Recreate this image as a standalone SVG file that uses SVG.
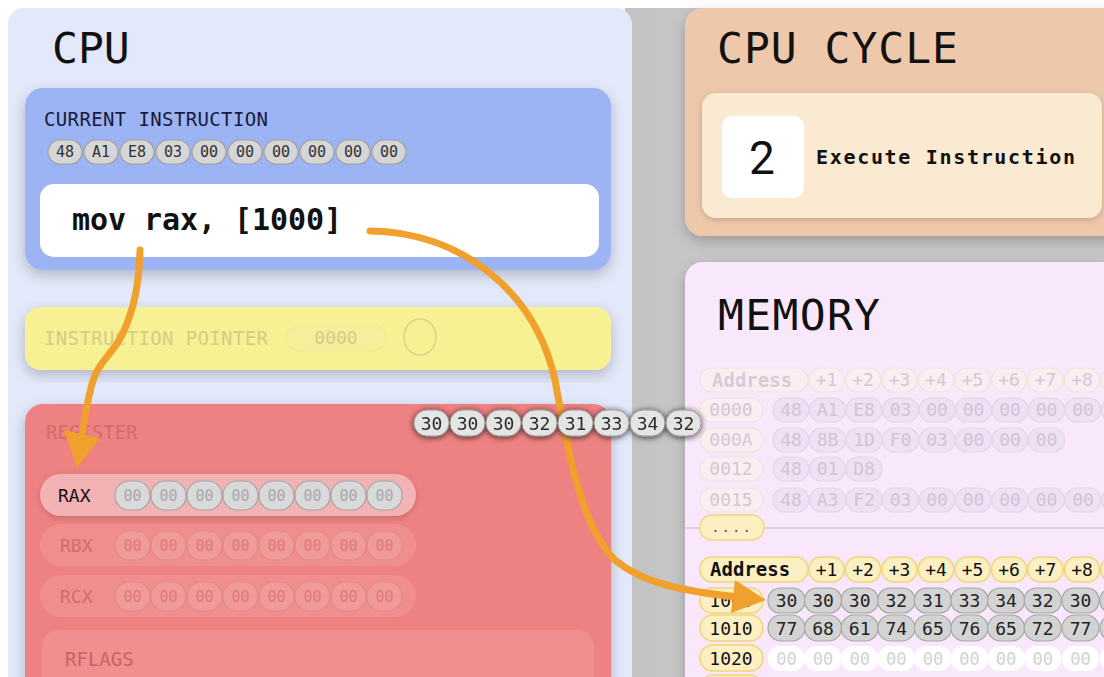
<svg xmlns="http://www.w3.org/2000/svg" width="1104" height="677" viewBox="0 0 1104 677">
<defs>
<filter id="sh" x="-10%" y="-10%" width="120%" height="130%"><feDropShadow dx="0" dy="5" stdDeviation="7" flood-color="#000" flood-opacity="0.22"/></filter>
<filter id="shs" x="-20%" y="-30%" width="140%" height="170%"><feDropShadow dx="0" dy="2" stdDeviation="3" flood-color="#000" flood-opacity="0.18"/></filter>
<filter id="shf" x="-30%" y="-50%" width="160%" height="200%"><feDropShadow dx="0" dy="1" stdDeviation="3" flood-color="#000" flood-opacity="0.75"/></filter>
<linearGradient id="gband" x1="0" x2="1" y1="0" y2="0"><stop offset="0" stop-color="#c2c2c2"/><stop offset="0.5" stop-color="#d4d4d4"/><stop offset="1" stop-color="#c4c4c4"/></linearGradient>
</defs>
<style>
.mono{font-family:"DejaVu Sans Mono","Liberation Mono",monospace}
.title{font-family:"DejaVu Sans Mono","Liberation Mono",monospace;font-size:43px;fill:#111}
.lbl{font-family:"DejaVu Sans Mono","Liberation Mono",monospace;font-size:19px;fill:#1a1a3a}
.lbly{font-family:"DejaVu Sans Mono","Liberation Mono",monospace;font-size:19px;fill:#d3cd88}
.lblr{font-family:"DejaVu Sans Mono","Liberation Mono",monospace;font-size:19px;fill:#d46a6a}
.bp{fill:#d6d6d6;stroke:#a0a0a0;stroke-width:1.2}
.bt{font-family:"DejaVu Sans Mono","Liberation Mono",monospace;font-size:15px;fill:#333;text-anchor:middle}
.rp{fill:#d9d9d9;stroke:#a4a4a4;stroke-width:1.2}
.rt{font-family:"DejaVu Sans Mono","Liberation Mono",monospace;font-size:15px;fill:#a9a9a9;text-anchor:middle}
.fp{fill:#f09a9a;stroke:#e48888;stroke-width:1.2}
.ft{font-family:"DejaVu Sans Mono","Liberation Mono",monospace;font-size:15px;fill:#e07a7a;text-anchor:middle}
.fl{fill:#e4e4e4;stroke:#9a9a9a;stroke-width:1}
.flt{font-family:"DejaVu Sans Mono","Liberation Mono",monospace;font-size:18px;fill:#2a2a2a;text-anchor:middle}
.ah{fill:#fcefc2;stroke:#efd57a;stroke-width:1.5}
.aht{font-family:"DejaVu Sans Mono","Liberation Mono",monospace;font-size:18px;fill:#111;text-anchor:middle}
.vp{fill:#d3d3d3;stroke:#a6a6a6;stroke-width:1.2}
.vt{font-family:"DejaVu Sans Mono","Liberation Mono",monospace;font-size:18px;fill:#222;text-anchor:middle}
.wp{fill:#ffffff}
.wt{font-family:"DejaVu Sans Mono","Liberation Mono",monospace;font-size:17px;fill:#d2d2d2;text-anchor:middle}
.dh{fill:#fbeef2;stroke:#f3e2dc;stroke-width:1.2}
.dht{font-family:"DejaVu Sans Mono","Liberation Mono",monospace;font-size:18px;fill:#d6c6d6;text-anchor:middle}
.dv{fill:#efe0f3;stroke:#e4d4e9;stroke-width:1.2}
.dvt{font-family:"DejaVu Sans Mono","Liberation Mono",monospace;font-size:18px;fill:#d2c3d7;text-anchor:middle}
.arr{fill:none;stroke:#f0a02c;stroke-width:7;stroke-linecap:round}
.arrh{fill:#f0a02c}
</style>
<rect x="0" y="0" width="1104" height="677" fill="#ffffff"/>
<rect x="625" y="8" width="479" height="669" fill="url(#gband)"/>
<rect x="690" y="8" width="414" height="669" fill="#c6c6c6"/>

<g id="cpu">
<rect x="8" y="8" width="624" height="690" rx="16" fill="#e3e8fa"/>
<text x="52" y="63" class="title">CPU</text>
</g>

<g id="current-instruction">
<rect x="25" y="88" width="586" height="182" rx="18" fill="#9cb4f4" filter="url(#sh)"/>
<text x="44" y="126" class="lbl" textLength="224">CURRENT INSTRUCTION</text>
<g>
<rect class="bp" x="48" y="140" width="34" height="24" rx="12"/><text class="bt" x="65" y="157">48</text>
<rect class="bp" x="84" y="140" width="34" height="24" rx="12"/><text class="bt" x="101" y="157">A1</text>
<rect class="bp" x="120" y="140" width="34" height="24" rx="12"/><text class="bt" x="137" y="157">E8</text>
<rect class="bp" x="156" y="140" width="34" height="24" rx="12"/><text class="bt" x="173" y="157">03</text>
<rect class="bp" x="192" y="140" width="34" height="24" rx="12"/><text class="bt" x="209" y="157">00</text>
<rect class="bp" x="228" y="140" width="34" height="24" rx="12"/><text class="bt" x="245" y="157">00</text>
<rect class="bp" x="264" y="140" width="34" height="24" rx="12"/><text class="bt" x="281" y="157">00</text>
<rect class="bp" x="300" y="140" width="34" height="24" rx="12"/><text class="bt" x="317" y="157">00</text>
<rect class="bp" x="336" y="140" width="34" height="24" rx="12"/><text class="bt" x="353" y="157">00</text>
<rect class="bp" x="372" y="140" width="34" height="24" rx="12"/><text class="bt" x="389" y="157">00</text>
</g>
<rect x="40" y="184" width="559" height="73" rx="14" fill="#ffffff"/>
<text x="72" y="230" class="mono" font-size="30" font-weight="bold" fill="#111" textLength="270">mov rax, [1000]</text>
</g>

<g id="instruction-pointer">
<rect x="25" y="307" width="586" height="63" rx="16" fill="#f8f193" filter="url(#sh)"/>
<text x="44" y="345" class="lbly" textLength="224">INSTRUCTION POINTER</text>
<rect x="286" y="325" width="100" height="26" rx="13" fill="#f6ee9a" stroke="#f1e68c"/>
<text x="336" y="344" class="mono" font-size="18" fill="#d3cc8a" text-anchor="middle">0000</text>
<ellipse cx="420" cy="337" rx="16" ry="18" fill="none" stroke="#d9d389" stroke-width="1.5"/>
</g>

<g id="register">
<rect x="25" y="404" width="586" height="300" rx="18" fill="#ee8282" filter="url(#sh)"/>
<text x="46" y="439" class="lblr">REGISTER</text>
<g id="rax">
<rect x="40" y="474" width="376" height="42" rx="21" fill="#f3b2b4" filter="url(#shs)"/>
<text x="58" y="502" class="mono" font-size="18" fill="#111">RAX</text>
<rect class="rp" x="115" y="481" width="35" height="29" rx="14"/><text class="rt" x="132.5" y="501">00</text>
<rect class="rp" x="151" y="481" width="35" height="29" rx="14"/><text class="rt" x="168.5" y="501">00</text>
<rect class="rp" x="187" y="481" width="35" height="29" rx="14"/><text class="rt" x="204.5" y="501">00</text>
<rect class="rp" x="223" y="481" width="35" height="29" rx="14"/><text class="rt" x="240.5" y="501">00</text>
<rect class="rp" x="259" y="481" width="35" height="29" rx="14"/><text class="rt" x="276.5" y="501">00</text>
<rect class="rp" x="295" y="481" width="35" height="29" rx="14"/><text class="rt" x="312.5" y="501">00</text>
<rect class="rp" x="331" y="481" width="35" height="29" rx="14"/><text class="rt" x="348.5" y="501">00</text>
<rect class="rp" x="367" y="481" width="35" height="29" rx="14"/><text class="rt" x="384.5" y="501">00</text>
</g>
<g id="rbx">
<rect x="40" y="524" width="376" height="42" rx="21" fill="#f08e8e"/>
<text x="60" y="552" class="mono" font-size="18" fill="#d26c6c">RBX</text>
<rect class="fp" x="115" y="531" width="35" height="29" rx="14"/><text class="ft" x="132.5" y="551">00</text>
<rect class="fp" x="151" y="531" width="35" height="29" rx="14"/><text class="ft" x="168.5" y="551">00</text>
<rect class="fp" x="187" y="531" width="35" height="29" rx="14"/><text class="ft" x="204.5" y="551">00</text>
<rect class="fp" x="223" y="531" width="35" height="29" rx="14"/><text class="ft" x="240.5" y="551">00</text>
<rect class="fp" x="259" y="531" width="35" height="29" rx="14"/><text class="ft" x="276.5" y="551">00</text>
<rect class="fp" x="295" y="531" width="35" height="29" rx="14"/><text class="ft" x="312.5" y="551">00</text>
<rect class="fp" x="331" y="531" width="35" height="29" rx="14"/><text class="ft" x="348.5" y="551">00</text>
<rect class="fp" x="367" y="531" width="35" height="29" rx="14"/><text class="ft" x="384.5" y="551">00</text>
</g>
<g id="rcx">
<rect x="40" y="575" width="376" height="42" rx="21" fill="#f08e8e"/>
<text x="60" y="603" class="mono" font-size="18" fill="#d26c6c">RCX</text>
<rect class="fp" x="115" y="582" width="35" height="29" rx="14"/><text class="ft" x="132.5" y="602">00</text>
<rect class="fp" x="151" y="582" width="35" height="29" rx="14"/><text class="ft" x="168.5" y="602">00</text>
<rect class="fp" x="187" y="582" width="35" height="29" rx="14"/><text class="ft" x="204.5" y="602">00</text>
<rect class="fp" x="223" y="582" width="35" height="29" rx="14"/><text class="ft" x="240.5" y="602">00</text>
<rect class="fp" x="259" y="582" width="35" height="29" rx="14"/><text class="ft" x="276.5" y="602">00</text>
<rect class="fp" x="295" y="582" width="35" height="29" rx="14"/><text class="ft" x="312.5" y="602">00</text>
<rect class="fp" x="331" y="582" width="35" height="29" rx="14"/><text class="ft" x="348.5" y="602">00</text>
<rect class="fp" x="367" y="582" width="35" height="29" rx="14"/><text class="ft" x="384.5" y="602">00</text>
</g>
<g id="rflags">
<rect x="42" y="630" width="552" height="80" rx="16" fill="#f08f90"/>
<text x="65" y="666" class="mono" font-size="19" fill="#c86464">RFLAGS</text>
</g>
</g>

<g id="cpu-cycle">
<rect x="685" y="8" width="440" height="228" rx="18" fill="#eec8aa" filter="url(#sh)"/>
<text x="717" y="63" class="title" textLength="241">CPU CYCLE</text>
<rect x="702" y="93" width="400" height="125" rx="14" fill="#fbead2" filter="url(#shs)"/>
<rect x="722" y="116" width="82" height="82" rx="10" fill="#ffffff"/>
<text x="762" y="174" font-family="Roboto, 'Liberation Sans', sans-serif" font-size="46" fill="#111" text-anchor="middle">2</text>
<text x="816" y="164" class="mono" font-size="20" font-weight="bold" fill="#111" textLength="259">Execute Instruction</text>
</g>

<g id="memory">
<rect x="685" y="262" width="440" height="440" rx="18" fill="#f9e8fb" filter="url(#sh)"/>
<text x="718" y="330" class="title" textLength="162">MEMORY</text>
<g id="old-table">
<rect class="dh" x="700" y="368" width="108" height="24" rx="12"/><text x="712" y="387" class="mono" font-size="19" font-weight="bold" fill="#d8cad8">Address</text>
<rect class="dh" x="809" y="368" width="35" height="24" rx="12"/><text class="dht" x="826.5" y="386">+1</text>
<rect class="dh" x="845.5" y="368" width="35" height="24" rx="12"/><text class="dht" x="863" y="386">+2</text>
<rect class="dh" x="882" y="368" width="35" height="24" rx="12"/><text class="dht" x="899.5" y="386">+3</text>
<rect class="dh" x="918.5" y="368" width="35" height="24" rx="12"/><text class="dht" x="936" y="386">+4</text>
<rect class="dh" x="955" y="368" width="35" height="24" rx="12"/><text class="dht" x="972.5" y="386">+5</text>
<rect class="dh" x="991.5" y="368" width="35" height="24" rx="12"/><text class="dht" x="1009" y="386">+6</text>
<rect class="dh" x="1028" y="368" width="35" height="24" rx="12"/><text class="dht" x="1045.5" y="386">+7</text>
<rect class="dh" x="1064.5" y="368" width="35" height="24" rx="12"/><text class="dht" x="1082" y="386">+8</text>
<rect class="dh" x="1101" y="368" width="35" height="24" rx="12"/>

<rect class="dh" x="700" y="398" width="63" height="24" rx="12"/><text class="dht" x="731" y="416">0000</text>
<rect class="dv" x="773" y="398" width="36" height="24" rx="12"/><text class="dvt" x="791" y="416">48</text>
<rect class="dv" x="809.5" y="398" width="36" height="24" rx="12"/><text class="dvt" x="827.5" y="416">A1</text>
<rect class="dv" x="846" y="398" width="36" height="24" rx="12"/><text class="dvt" x="864" y="416">E8</text>
<rect class="dv" x="882.5" y="398" width="36" height="24" rx="12"/><text class="dvt" x="900.5" y="416">03</text>
<rect class="dv" x="919" y="398" width="36" height="24" rx="12"/><text class="dvt" x="937" y="416">00</text>
<rect class="dv" x="955.5" y="398" width="36" height="24" rx="12"/><text class="dvt" x="973.5" y="416">00</text>
<rect class="dv" x="992" y="398" width="36" height="24" rx="12"/><text class="dvt" x="1010" y="416">00</text>
<rect class="dv" x="1028.5" y="398" width="36" height="24" rx="12"/><text class="dvt" x="1046.5" y="416">00</text>
<rect class="dv" x="1065" y="398" width="36" height="24" rx="12"/><text class="dvt" x="1083" y="416">00</text>
<rect class="dv" x="1101.5" y="398" width="36" height="24" rx="12"/>

<rect class="dh" x="700" y="428" width="63" height="24" rx="12"/><text class="dht" x="731" y="446">000A</text>
<rect class="dv" x="773" y="428" width="36" height="24" rx="12"/><text class="dvt" x="791" y="446">48</text>
<rect class="dv" x="809.5" y="428" width="36" height="24" rx="12"/><text class="dvt" x="827.5" y="446">8B</text>
<rect class="dv" x="846" y="428" width="36" height="24" rx="12"/><text class="dvt" x="864" y="446">1D</text>
<rect class="dv" x="882.5" y="428" width="36" height="24" rx="12"/><text class="dvt" x="900.5" y="446">F0</text>
<rect class="dv" x="919" y="428" width="36" height="24" rx="12"/><text class="dvt" x="937" y="446">03</text>
<rect class="dv" x="955.5" y="428" width="36" height="24" rx="12"/><text class="dvt" x="973.5" y="446">00</text>
<rect class="dv" x="992" y="428" width="36" height="24" rx="12"/><text class="dvt" x="1010" y="446">00</text>
<rect class="dv" x="1028.5" y="428" width="36" height="24" rx="12"/><text class="dvt" x="1046.5" y="446">00</text>

<rect class="dh" x="700" y="457" width="63" height="24" rx="12"/><text class="dht" x="731" y="475">0012</text>
<rect class="dv" x="773" y="457" width="36" height="24" rx="12"/><text class="dvt" x="791" y="475">48</text>
<rect class="dv" x="809.5" y="457" width="36" height="24" rx="12"/><text class="dvt" x="827.5" y="475">01</text>
<rect class="dv" x="846" y="457" width="36" height="24" rx="12"/><text class="dvt" x="864" y="475">D8</text>

<rect class="dh" x="700" y="488" width="63" height="24" rx="12"/><text class="dht" x="731" y="506">0015</text>
<rect class="dv" x="773" y="488" width="36" height="24" rx="12"/><text class="dvt" x="791" y="506">48</text>
<rect class="dv" x="809.5" y="488" width="36" height="24" rx="12"/><text class="dvt" x="827.5" y="506">A3</text>
<rect class="dv" x="846" y="488" width="36" height="24" rx="12"/><text class="dvt" x="864" y="506">F2</text>
<rect class="dv" x="882.5" y="488" width="36" height="24" rx="12"/><text class="dvt" x="900.5" y="506">03</text>
<rect class="dv" x="919" y="488" width="36" height="24" rx="12"/><text class="dvt" x="937" y="506">00</text>
<rect class="dv" x="955.5" y="488" width="36" height="24" rx="12"/><text class="dvt" x="973.5" y="506">00</text>
<rect class="dv" x="992" y="488" width="36" height="24" rx="12"/><text class="dvt" x="1010" y="506">00</text>
<rect class="dv" x="1028.5" y="488" width="36" height="24" rx="12"/><text class="dvt" x="1046.5" y="506">00</text>
<rect class="dv" x="1065" y="488" width="36" height="24" rx="12"/><text class="dvt" x="1083" y="506">00</text>
<rect class="dv" x="1101.5" y="488" width="36" height="24" rx="12"/>
</g>
<line x1="685" y1="528" x2="1104" y2="528" stroke="#d8c8dc" stroke-width="1.5"/>
<rect x="700" y="515" width="64" height="25" rx="12" fill="#fcf0c2" stroke="#f0d77c" stroke-width="1.5"/>
<text x="732" y="532" class="mono" font-size="14" fill="#555" text-anchor="middle" letter-spacing="2">....</text>

<g id="new-table">
<rect class="ah" x="700" y="557" width="108" height="25" rx="12"/><text x="710" y="576" class="mono" font-size="19" font-weight="bold" fill="#111">Address</text>
<rect class="ah" x="809" y="557" width="35" height="25" rx="12"/><text class="aht" x="826.5" y="576">+1</text>
<rect class="ah" x="845.5" y="557" width="35" height="25" rx="12"/><text class="aht" x="863" y="576">+2</text>
<rect class="ah" x="882" y="557" width="35" height="25" rx="12"/><text class="aht" x="899.5" y="576">+3</text>
<rect class="ah" x="918.5" y="557" width="35" height="25" rx="12"/><text class="aht" x="936" y="576">+4</text>
<rect class="ah" x="955" y="557" width="35" height="25" rx="12"/><text class="aht" x="972.5" y="576">+5</text>
<rect class="ah" x="991.5" y="557" width="35" height="25" rx="12"/><text class="aht" x="1009" y="576">+6</text>
<rect class="ah" x="1028" y="557" width="35" height="25" rx="12"/><text class="aht" x="1045.5" y="576">+7</text>
<rect class="ah" x="1064.5" y="557" width="35" height="25" rx="12"/><text class="aht" x="1082" y="576">+8</text>
<rect class="ah" x="1101" y="557" width="35" height="25" rx="12"/>

<rect class="ah" x="700" y="588" width="63" height="25" rx="12"/><text class="aht" x="731" y="607">1000</text>
<rect class="vp" x="768" y="588" width="37" height="25" rx="12"/><text class="vt" x="786.5" y="607">30</text>
<rect class="vp" x="804.6" y="588" width="37" height="25" rx="12"/><text class="vt" x="823.1" y="607">30</text>
<rect class="vp" x="841.2" y="588" width="37" height="25" rx="12"/><text class="vt" x="859.7" y="607">30</text>
<rect class="vp" x="877.8" y="588" width="37" height="25" rx="12"/><text class="vt" x="896.3" y="607">32</text>
<rect class="vp" x="914.4" y="588" width="37" height="25" rx="12"/><text class="vt" x="932.9" y="607">31</text>
<rect class="vp" x="951" y="588" width="37" height="25" rx="12"/><text class="vt" x="969.5" y="607">33</text>
<rect class="vp" x="987.6" y="588" width="37" height="25" rx="12"/><text class="vt" x="1006.1" y="607">34</text>
<rect class="vp" x="1024.2" y="588" width="37" height="25" rx="12"/><text class="vt" x="1042.7" y="607">32</text>
<rect class="vp" x="1062" y="588" width="37" height="25" rx="12"/><text class="vt" x="1080.5" y="607">30</text>
<rect class="vp" x="1100" y="588" width="37" height="25" rx="12"/>

<rect class="ah" x="700" y="615" width="63" height="26" rx="13"/><text class="aht" x="731" y="635">1010</text>
<rect class="vp" x="768" y="615" width="37" height="26" rx="13"/><text class="vt" x="786.5" y="635">77</text>
<rect class="vp" x="804.6" y="615" width="37" height="26" rx="13"/><text class="vt" x="823.1" y="635">68</text>
<rect class="vp" x="841.2" y="615" width="37" height="26" rx="13"/><text class="vt" x="859.7" y="635">61</text>
<rect class="vp" x="877.8" y="615" width="37" height="26" rx="13"/><text class="vt" x="896.3" y="635">74</text>
<rect class="vp" x="914.4" y="615" width="37" height="26" rx="13"/><text class="vt" x="932.9" y="635">65</text>
<rect class="vp" x="951" y="615" width="37" height="26" rx="13"/><text class="vt" x="969.5" y="635">76</text>
<rect class="vp" x="987.6" y="615" width="37" height="26" rx="13"/><text class="vt" x="1006.1" y="635">65</text>
<rect class="vp" x="1024.2" y="615" width="37" height="26" rx="13"/><text class="vt" x="1042.7" y="635">72</text>
<rect class="vp" x="1062" y="615" width="37" height="26" rx="13"/><text class="vt" x="1080.5" y="635">77</text>
<rect class="vp" x="1100" y="615" width="37" height="26" rx="13"/>

<rect class="ah" x="700" y="645" width="63" height="26" rx="13"/><text class="aht" x="731" y="665">1020</text>
<rect class="wp" x="768" y="646" width="37" height="25" rx="12"/><text class="wt" x="786.5" y="665">00</text>
<rect class="wp" x="804.6" y="646" width="37" height="25" rx="12"/><text class="wt" x="823.1" y="665">00</text>
<rect class="wp" x="841.2" y="646" width="37" height="25" rx="12"/><text class="wt" x="859.7" y="665">00</text>
<rect class="wp" x="877.8" y="646" width="37" height="25" rx="12"/><text class="wt" x="896.3" y="665">00</text>
<rect class="wp" x="914.4" y="646" width="37" height="25" rx="12"/><text class="wt" x="932.9" y="665">00</text>
<rect class="wp" x="951" y="646" width="37" height="25" rx="12"/><text class="wt" x="969.5" y="665">00</text>
<rect class="wp" x="987.6" y="646" width="37" height="25" rx="12"/><text class="wt" x="1006.1" y="665">00</text>
<rect class="wp" x="1024.2" y="646" width="37" height="25" rx="12"/><text class="wt" x="1042.7" y="665">00</text>
<rect class="wp" x="1062" y="646" width="37" height="25" rx="12"/><text class="wt" x="1080.5" y="665">00</text>
<rect class="wp" x="1100" y="646" width="37" height="25" rx="12"/>
<rect class="ah" x="700" y="675" width="63" height="26" rx="13"/>
</g>
</g>

<g id="connectors">
<path class="arr" d="M140,250 C139,285 134,310 122,335 C112,355 100,360 94,378 C88,395 85,415 82,436"/>
<polygon class="arrh" points="64,430 100,438 77,468"/>
<path class="arr" d="M370,231 C460,232 535,290 555,380 C568,450 580,525 615,560 C645,585 690,592 738,597"/>
<polygon class="arrh" points="735,580 766,600 731,613"/>
</g>

<g id="loaded-bytes" filter="url(#shf)">
<rect class="fl" x="414" y="410" width="35" height="26" rx="13"/><text class="flt" x="431.5" y="430">30</text>
<rect class="fl" x="450" y="410" width="35" height="26" rx="13"/><text class="flt" x="467.5" y="430">30</text>
<rect class="fl" x="486" y="410" width="35" height="26" rx="13"/><text class="flt" x="503.5" y="430">30</text>
<rect class="fl" x="522" y="410" width="35" height="26" rx="13"/><text class="flt" x="539.5" y="430">32</text>
<rect class="fl" x="558" y="410" width="35" height="26" rx="13"/><text class="flt" x="575.5" y="430">31</text>
<rect class="fl" x="594" y="410" width="35" height="26" rx="13"/><text class="flt" x="611.5" y="430">33</text>
<rect class="fl" x="630" y="410" width="35" height="26" rx="13"/><text class="flt" x="647.5" y="430">34</text>
<rect class="fl" x="666" y="410" width="35" height="26" rx="13"/><text class="flt" x="683.5" y="430">32</text>
</g>
</svg>
